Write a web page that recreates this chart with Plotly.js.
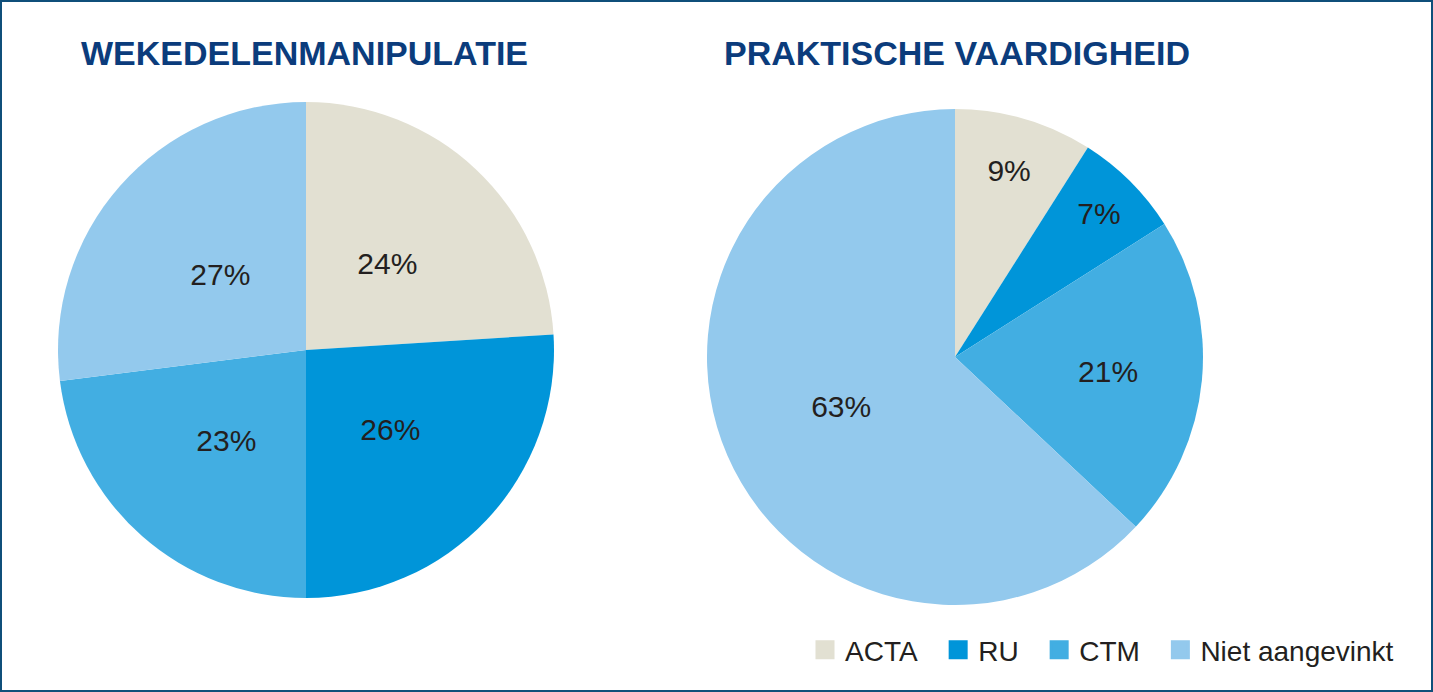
<!DOCTYPE html>
<html>
<head>
<meta charset="utf-8">
<script src="https://cdn.plot.ly/plotly-3.0.1.min.js"></script>
<style>
html,body{margin:0;padding:0;background:#fff;}
#frame{width:1433px;height:692px;box-sizing:border-box;border:2px solid #0f4f7a;overflow:hidden;}
#chart{width:1429px;height:688px;}
</style>
</head>
<body>
<div id="frame"><div id="chart"></div></div>
<script>
const categories = ["ACTA", "RU", "CTM", "Niet aangevinkt"];
const wekedelenValues = [24, 26, 23, 27];
const praktischeValues = [9, 7, 21, 63];
const chartTitles = ["WEKEDELENMANIPULATIE", "PRAKTISCHE VAARDIGHEID"];
const sliceColors = ["#e2e0d2", "#0095d9", "#42aee2", "#93c9ed"];

const FONT = "'Liberation Sans', Arial, sans-serif";
const W = 1429, H = 688;
function dom(cx, cy, r) {
  return { x: [(cx - r) / W, (cx + r) / W], y: [(H - cy - r) / H, (H - cy + r) / H] };
}

const common = {
  type: "pie",
  labels: categories,
  sort: false,
  direction: "clockwise",
  rotation: 0,
  showlegend: false,
  marker: { colors: sliceColors, line: { width: 0 } },
  texttemplate: "%{value}%",
  textposition: "inside",
  insidetextorientation: "horizontal",
  textfont: { family: FONT, size: 30, color: "#231f20" },
  hoverinfo: "label+percent"
};

// pie 1: slices (text drawn by a transparent, slightly smaller overlay of the same data)
const pie1 = Object.assign({}, common, {
  values: wekedelenValues, domain: dom(304, 348, 248), textposition: "none"
});
const pie1Text = Object.assign({}, common, {
  values: wekedelenValues, domain: dom(304, 348, 200),
  marker: { colors: sliceColors.map(() => "rgba(0,0,0,0)"), line: { width: 0 } }
});
const pie2 = Object.assign({}, common, { values: praktischeValues, domain: dom(953, 355, 248) });

// legend entries (square swatches) built from the category / colour arrays
const legendTraces = categories.map((c, i) => ({
  type: "scatter", mode: "markers", x: [null], y: [null],
  name: i < categories.length - 1 ? c + "\u00a0\u00a0" : c,
  marker: { symbol: "square", size: 16, color: sliceColors[i], line: { width: 3, color: sliceColors[i] } },
  showlegend: true, hoverinfo: "skip"
}));

const data = [pie1, pie1Text, pie2].concat(legendTraces);

const layout = {
  width: W, height: H,
  margin: { l: 0, r: 0, t: 0, b: 0 },
  paper_bgcolor: "#ffffff",
  plot_bgcolor: "rgba(0,0,0,0)",
  xaxis: { visible: false }, yaxis: { visible: false },
  showlegend: true,
  legend: {
    orientation: "h",
    x: 1397 / W, xanchor: "right",
    y: 40 / H, yanchor: "middle",
    font: { family: FONT, size: 28, color: "#231f20" },
    itemsizing: "trace",
    traceorder: "normal",
    bgcolor: "rgba(0,0,0,0)"
  },
  annotations: [
    { text: "<b>" + chartTitles[0] + "</b>", x: 302 / W, y: 1 - 51 / H, xref: "paper", yref: "paper",
      xanchor: "center", yanchor: "middle", showarrow: false,
      font: { family: FONT, size: 34, color: "#0b3c7c" } },
    { text: "<b>" + chartTitles[1] + "</b>", x: 954.5 / W, y: 1 - 51 / H, xref: "paper", yref: "paper",
      xanchor: "center", yanchor: "middle", showarrow: false,
      font: { family: FONT, size: 34, color: "#0b3c7c" } }
  ]
};

Plotly.newPlot("chart", data, layout, { displayModeBar: false, staticPlot: true });
</script>
</body>
</html>
